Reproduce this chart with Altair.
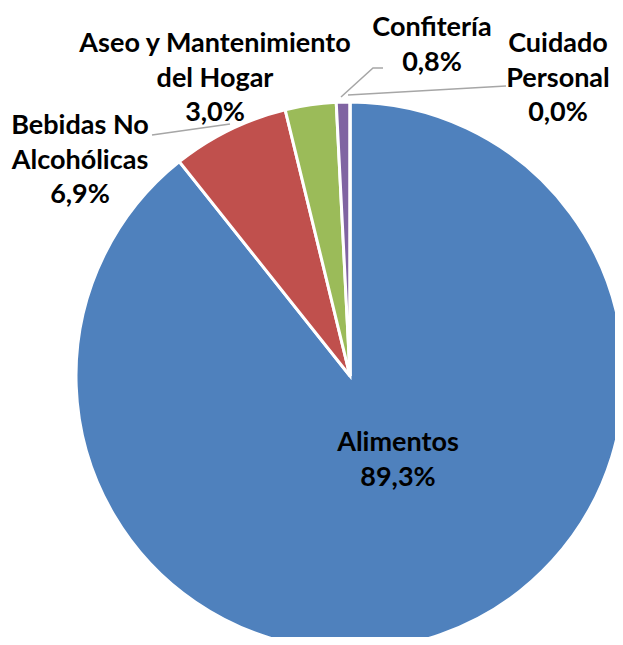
import altair as alt
import pandas as pd

categories = ["Alimentos", "Bebidas No Alcohólicas", "Aseo y Mantenimiento del Hogar", "Confitería", "Cuidado Personal"]
values = [89.3, 6.9, 3.0, 0.8, 0.0]
colors = ["#4F81BD", "#C0504D", "#9BBB59", "#8064A2", "#4BACC6"]
label_texts = ["Alimentos\n89,3%", "Bebidas No\nAlcohólicas\n6,9%", "Aseo y Mantenimiento\ndel Hogar\n3,0%",
               "Confitería\n0,8%", "Cuidado\nPersonal\n0,0%"]

# layout (chart pixel coordinates; top of first line)
CX, CY, R = 342, 368, 274
label_pos = {"Alimentos": (390, 422), "Bebidas No Alcohólicas": (72, 105),
             "Aseo y Mantenimiento del Hogar": (207, 23), "Confitería": (424, 7),
             "Cuidado Personal": (550, 23)}
leaders = [
    ("Bebidas No Alcohólicas", [(144, 127), (222, 116)]),
    ("Confitería", [(375, 60), (365, 60), (333, 89)]),
    ("Cuidado Personal", [(340, 87), (498, 78)]),
]

df = pd.DataFrame({"cat": categories, "val": values, "order": list(range(len(categories)))})

pie = alt.Chart(df).mark_arc(stroke="white", strokeWidth=3).encode(
    theta=alt.Theta("val:Q", stack=True),
    order=alt.Order("order:Q"),
    color=alt.Color("cat:N", scale=alt.Scale(domain=categories, range=colors), legend=None),
    x=alt.value(CX), y=alt.value(CY), radius=alt.value(R),
)

lab = pd.DataFrame({
    "cat": categories,
    "text": label_texts,
    "x": [label_pos[c][0] for c in categories],
    "y": [label_pos[c][1] for c in categories],
})
texts = alt.Chart(lab).mark_text(font="Lato", fontWeight="bold", fontSize=27, lineBreak="\n",
                                 lineHeight=34.5, align="center", baseline="top", color="black").encode(
    x=alt.X("x:Q", scale=None), y=alt.Y("y:Q", scale=None), text="text:N")

rows = []
for name, pts in leaders:
    for i, (px, py) in enumerate(pts):
        rows.append({"g": name, "i": i, "x": px, "y": py})
ldf = pd.DataFrame(rows)
lines = alt.Chart(ldf).mark_line(color="#A6A6A6", strokeWidth=1.5).encode(
    x=alt.X("x:Q", scale=None), y=alt.Y("y:Q", scale=None), detail="g:N", order="i:Q")

chart = alt.layer(pie, lines, texts).properties(
    width=607, height=629, autosize="none", padding=0
).configure_view(stroke=None)

chart.save("out.html", embed_options={"renderer": "svg", "actions": False})
